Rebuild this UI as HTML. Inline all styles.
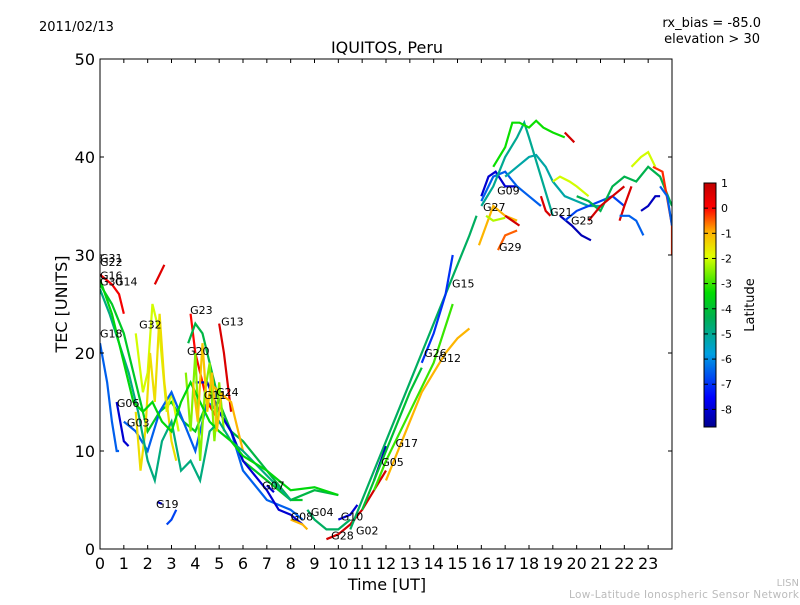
<!DOCTYPE html>
<html><head><meta charset="utf-8"><style>
body{margin:0;background:#fff;}
svg text{font-family:"DejaVu Sans","Liberation Sans",sans-serif;}
</style></head><body>
<svg id="chart" width="800" height="600" xmlns="http://www.w3.org/2000/svg">
<defs>
<linearGradient id="jet" x1="0" y1="1" x2="0" y2="0">
<stop offset="0" stop-color="#00008f"/><stop offset="0.12" stop-color="#0000ff"/>
<stop offset="0.3" stop-color="#00a0e0"/><stop offset="0.45" stop-color="#00b050"/>
<stop offset="0.55" stop-color="#00dd00"/><stop offset="0.7" stop-color="#e0ff00"/>
<stop offset="0.8" stop-color="#ffb000"/><stop offset="0.9" stop-color="#ff0000"/>
<stop offset="1" stop-color="#c00000"/></linearGradient>
<clipPath id="pc"><rect x="100" y="59" width="572" height="490"/></clipPath>
</defs>
<text x="39" y="31" font-size="13">2011/02/13</text>
<text x="761" y="27" font-size="13" text-anchor="end">rx_bias = -85.0</text>
<text x="760" y="43" font-size="13" text-anchor="end">elevation &gt; 30</text>
<text x="387" y="53" font-size="16" text-anchor="middle">IQUITOS, Peru</text>
<text x="387" y="590" font-size="16" text-anchor="middle">Time [UT]</text>
<text x="67" y="304" font-size="16" text-anchor="middle" transform="rotate(-90 67 304)">TEC [UNITS]</text>
<text x="799" y="586" font-size="10" fill="#bbb" text-anchor="end">LISN</text>
<text x="799" y="598" font-size="10.5" fill="#bbb" text-anchor="end" textLength="230">Low-Latitude Ionospheric Sensor Network</text>
<g id="plot" clip-path="url(#pc)"></g>
<g id="axes"></g>
<rect x="704" y="183" width="12" height="244" fill="url(#jet)" stroke="#000" stroke-width="1"/>
<g id="cbar"></g>
<text x="754" y="305" font-size="13" text-anchor="middle" transform="rotate(-90 754 305)">Latitude</text>
</svg>
<script>
const xTicks=[0,1,2,3,4,5,6,7,8,9,10,11,12,13,14,15,16,17,18,19,20,21,22,23];
const yTicks=[0,10,20,30,40,50];
const cbTicks=[1,0,-1,-2,-3,-4,-5,-6,-7,-8];
const traceLat=[-3.8,-6.5,-8,0.2,-2,0.5,-6.5,-8.2,-6.8,0,-4.2,0.6,-8,-1,-8,-1,-4.5,0.7,-8,-4.5,-8.3,-7,-1,-3,-4,-8,-6.5,-1,-2.2,0.7,-5,-3.3,0.7,-5.2,0.6,-0.5,-2,-8.3,-6.8,-4.3,0.7,0.6,-2,-6.5,-8.2,-0.2,-6.5,-1.5,-2.5,-4.8,-3.5,-1.2];
const traceData=[
[[0,27],[0.5,25],[1,22],[1.5,17],[2,12],[2.5,14],[3,15],[3.5,13],[4,12],[4.5,15],[5,14],[5.5,12],[6,9],[7,7],[8,5],[8.5,5]],
[[0,21],[0.3,17],[0.5,13],[0.7,10],[0.8,10]],
[[0.7,15],[1,11],[1.2,10.5]],
[[0,28],[0.5,27],[0.8,26],[1,24]],
[[1.5,22],[1.8,16],[2,18],[2.2,25],[2.5,22],[2.8,14],[3,16],[3.3,12]],
[[2.3,27],[2.5,28],[2.7,29]],
[[1,13],[1.5,12],[2,10],[2.5,14],[3,16],[3.5,13],[4,10],[4.5,15],[5,14],[5.5,12],[6,8],[7,5],[8,4],[8.5,3]],
[[2.4,4.8],[2.6,4.6]],
[[2.8,2.5],[3,3],[3.2,4]],
[[3.8,24],[4,20],[4.3,17],[4.5,15],[5,13]],
[[3.7,21],[4,23],[4.3,22],[4.7,18],[5,15],[5.5,12],[6,11],[7,8],[8,5],[9,6],[10,5.5]],
[[5,23],[5.2,20],[5.5,14]],
[[4,17],[4.5,17],[5,14],[5.5,12],[6,9],[7,6],[7.5,4],[8,3.5],[8.5,2.5]],
[[4.6,17],[5,16],[5.5,15],[6,10]],
[[7,6.5],[7.3,5.8]],
[[8,3],[8.5,2.5],[8.7,2]],
[[8.7,4],[9,3],[9.5,2],[10,2],[10.5,3]],
[[9.5,1],[10,1.5],[10.5,2.5],[11,4],[11.5,6],[12,8]],
[[10,3],[10.5,3.5],[10.8,4.5]],
[[10.5,2],[11,5],[11.5,8],[12,11],[12.5,14],[13,17],[13.5,20],[14,23],[14.5,26],[15,29],[15.5,32],[15.8,34]],
[[11.5,7],[12,10.5]],
[[13.5,19],[14,22],[14.5,26],[14.8,30]],
[[12,7],[12.5,10],[13,13],[13.5,16],[14,18],[14.5,20],[15,21.5],[15.5,22.5]],
[[11.5,6],[12,9],[13,14],[14,19],[14.8,25]],
[[11,4],[12,10],[12.5,13],[13,16],[13.5,18.5]],
[[16,36],[16.3,38],[16.6,38.5],[17,37],[17.5,37]],
[[16,35.5],[16.5,38],[17,38.5],[17.5,37],[18,36],[18.5,35]],
[[15.9,31],[16.2,33],[16.5,35],[17,34],[17.5,33.5]],
[[16.2,34],[16.5,33.5],[17,33.8]],
[[17,34],[17.3,33.5],[17.6,33]],
[[16,35],[16.5,37],[17,40],[17.5,42],[17.8,43.5],[18,42],[18.5,38],[19,34]],
[[16.5,39],[17,41],[17.3,43.5],[17.6,43.5],[18,43],[18.3,43.7],[18.6,43],[19,42.5],[19.5,42]],
[[19.5,42.5],[19.9,41.5]],
[[17,38],[17.5,39],[18,40],[18.3,40.2],[18.7,39],[19,37.5],[19.5,36],[20,35.5],[20.5,35],[21,35]],
[[18.5,36],[18.7,34.5],[18.9,34]],
[[16.7,30.5],[17,32],[17.5,32.5]],
[[19,37.5],[19.3,38],[19.7,37.5],[20,37],[20.5,36]],
[[19.3,34],[19.8,33],[20.2,32],[20.6,31.5]],
[[19.5,33.5],[20,34.5],[20.5,35],[21,35.5],[21.5,36],[22,35]],
[[20,36],[20.5,35.5],[21,34.5],[21.5,37],[22,38],[22.5,37.5],[23,39],[23.5,38],[24,35]],
[[20.5,33.5],[21,35],[21.5,36],[22,37]],
[[21.8,33.5],[22,35],[22.3,37]],
[[22.3,39],[22.7,40],[23,40.5],[23.3,39]],
[[21.8,34],[22.2,34],[22.5,33.5],[22.8,32]],
[[22.7,34.5],[23,35],[23.3,36],[23.5,36]],
[[23.2,39],[23.6,38.5],[24,33],[24,30]],
[[23.5,37],[23.8,36],[24,33]],
[[1.5,14],[1.7,8],[1.9,12],[2.1,20],[2.3,15],[2.5,24],[2.7,17],[3,11],[3.2,9]],
[[3.6,18],[3.8,12],[4,20],[4.2,9],[4.4,16],[4.6,19],[4.8,11],[5,17],[5.2,12]],
[[0,26.5],[0.4,24],[0.8,21],[1.2,18],[1.6,14],[2,9],[2.3,7],[2.6,11],[3,13],[3.4,8],[3.8,9],[4.2,7],[4.6,12],[5,13],[5.5,11],[6,10],[7,7.5],[8,5]],
[[0,27.5],[0.5,24],[1,19],[1.4,15],[1.8,14],[2.2,15],[2.6,13],[3,12],[3.4,15],[3.8,17],[4.2,15],[4.6,13],[5,12],[5.5,11],[6,9.5],[7,8],[8,6],[9,6.3],[10,5.5]],
[[3.9,17],[4.1,13],[4.3,21],[4.5,14],[4.7,18],[4.9,12],[5.1,16]]
];
const labelNames=["G31","G22","G16","G30","G14","G18","G32","G23","G13","G20","G06","G03","G11","G24","G19","G07","G08","G04","G28","G10","G02","G05","G17","G26","G12","G15","G27","G09","G29","G21","G25"];
const labelT=[0,0,0,0,0.63,0,1.64,3.78,5.08,3.65,0.71,1.13,4.36,4.87,2.35,6.8,8.0,8.85,9.7,10.1,10.74,11.8,12.4,13.6,14.2,14.77,16.07,16.66,16.74,18.88,19.76];
const labelV=[29.7,29.3,27.9,27.3,27.3,22,22.9,24.4,23.2,20.2,14.9,12.9,15.7,16,4.6,6.5,3.3,3.8,1.4,3.3,1.9,8.9,10.8,20,19.5,27.1,34.9,36.6,30.8,34.4,33.5];
const X=t=>100+t*572/24, Y=v=>549-v*9.8;
const NS="http://www.w3.org/2000/svg";
const cstops=[[0,[0,0,143]],[0.12,[0,0,255]],[0.3,[0,160,224]],[0.45,[0,176,80]],[0.55,[0,221,0]],[0.7,[224,255,0]],[0.8,[255,176,0]],[0.9,[255,0,0]],[1,[192,0,0]]];
function cmap(f){f=Math.max(0,Math.min(1,f));for(let i=1;i<cstops.length;i++){if(f<=cstops[i][0]){const a=cstops[i-1],b=cstops[i],u=(f-a[0])/(b[0]-a[0]);const c=a[1].map((v,k)=>Math.round(v+(b[1][k]-v)*u));return `rgb(${c})`;}}return 'rgb(192,0,0)';}
const plot=document.getElementById('plot'),axes=document.getElementById('axes'),cbar=document.getElementById('cbar');
traceData.forEach((pts,i)=>{const p=document.createElementNS(NS,'polyline');
p.setAttribute('points',pts.map(q=>X(q[0])+','+Y(q[1])).join(' '));
p.setAttribute('fill','none');p.setAttribute('stroke',cmap((traceLat[i]+8.7)/9.7));p.setAttribute('stroke-width','2.2');


plot.appendChild(p);});
labelNames.forEach((n,i)=>{const t=document.createElementNS(NS,'text');t.textContent=n;
t.setAttribute('x',X(labelT[i]));t.setAttribute('y',Y(labelV[i])+4);t.setAttribute('font-size','11');


plot.appendChild(t);});
const fr=document.createElementNS(NS,'rect');fr.setAttribute('x',100);fr.setAttribute('y',59);fr.setAttribute('width',572);fr.setAttribute('height',490);fr.setAttribute('fill','none');fr.setAttribute('stroke','#000');


axes.appendChild(fr);
function line(g,x1,y1,x2,y2){const l=document.createElementNS(NS,'line');l.setAttribute('x1',x1);l.setAttribute('y1',y1);l.setAttribute('x2',x2);l.setAttribute('y2',y2);l.setAttribute('stroke','#000');


g.appendChild(l);}
function txt(g,s,x,y,sz,anc,name){const t=document.createElementNS(NS,'text');t.textContent=s;t.setAttribute('x',x);t.setAttribute('y',y);t.setAttribute('font-size',sz);t.setAttribute('text-anchor',anc);


g.appendChild(t);}
xTicks.forEach(v=>{const x=X(v);line(axes,x,549,x,545);line(axes,x,59,x,63);txt(axes,String(v),x,569,16,'middle','x-tick-label');});
yTicks.forEach(v=>{const y=Y(v);line(axes,100,y,104,y);line(axes,672,y,668,y);txt(axes,String(v),95,y+6,16,'end','y-tick-label');});
cbTicks.forEach(v=>{const y=427-(v+8.7)/9.7*244;line(cbar,704,y,708,y);line(cbar,716,y,712,y);txt(cbar,String(v),721,y+4,11,'start','colorbar-tick-label');});
</script>
</body></html>
